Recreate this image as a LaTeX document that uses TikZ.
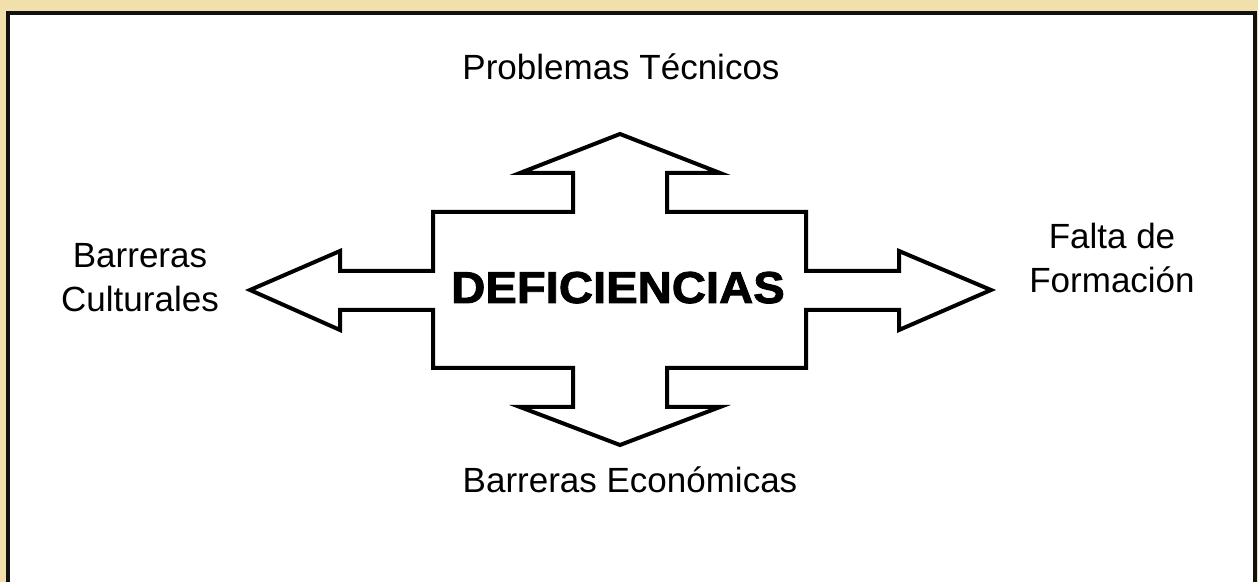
\documentclass[tikz,border=0pt]{standalone}
\usepackage{fontspec}
\setmainfont{Liberation Sans}
\newfontfamily\blackfont{Liberation Sans}[FakeStretch=1.06, BoldFeatures={FakeBold=2}]
\definecolor{parchment}{HTML}{F2E0AC}
\definecolor{frameDark}{HTML}{111111}

\begin{document}
\begin{tikzpicture}[x=0.5pt, y=-0.5pt,
    lbl/.style={font=\fontsize{17.5}{22}\selectfont, align=center, inner sep=0pt},
    outline/.style={draw=black, line width=2pt, miter limit=10, fill=white}]
  \useasboundingbox (0,0) rectangle (1258,582);
  \clip (0,0) rectangle (1258,582);
  % fondo y marco
  \fill[parchment] (0,0) rectangle (1258,582);
  \draw[frameDark, line width=2pt, fill=white] (8,13) rectangle (1255,600);
  % cruz de flechas
  \draw[outline] (620,134) -- (720,173) -- (667,173) -- (667,212) -- (806,212)
    -- (806,271) -- (899,271) -- (899,251) -- (991,290) -- (899,330) -- (899,310)
    -- (806,310) -- (806,368) -- (667,368) -- (667,407) -- (720,407) -- (620,445)
    -- (520,407) -- (573,407) -- (573,368) -- (433,368) -- (433,310) -- (340,310)
    -- (340,330) -- (250,290) -- (340,251) -- (340,271) -- (433,271) -- (433,212)
    -- (573,212) -- (573,173) -- (520,173) -- cycle;
  \node[font=\blackfont\bfseries\fontsize{22.3}{26}\selectfont, inner sep=0pt, anchor=base]
    (deficiencias) at (618,303) {DEFICIENCIAS};
  % etiquetas
  \node[lbl, anchor=base] (tecnicos) at (621,80) {Problemas Técnicos};
  \node[lbl, anchor=base] (economicas) at (630,492) {Barreras Económicas};
  \node[lbl, anchor=base] (culturales) at (140,312) {Barreras\\Culturales};
  \node[lbl, anchor=base] (formacion) at (1112,293) {Falta de\\Formación};
\end{tikzpicture}
\end{document}
